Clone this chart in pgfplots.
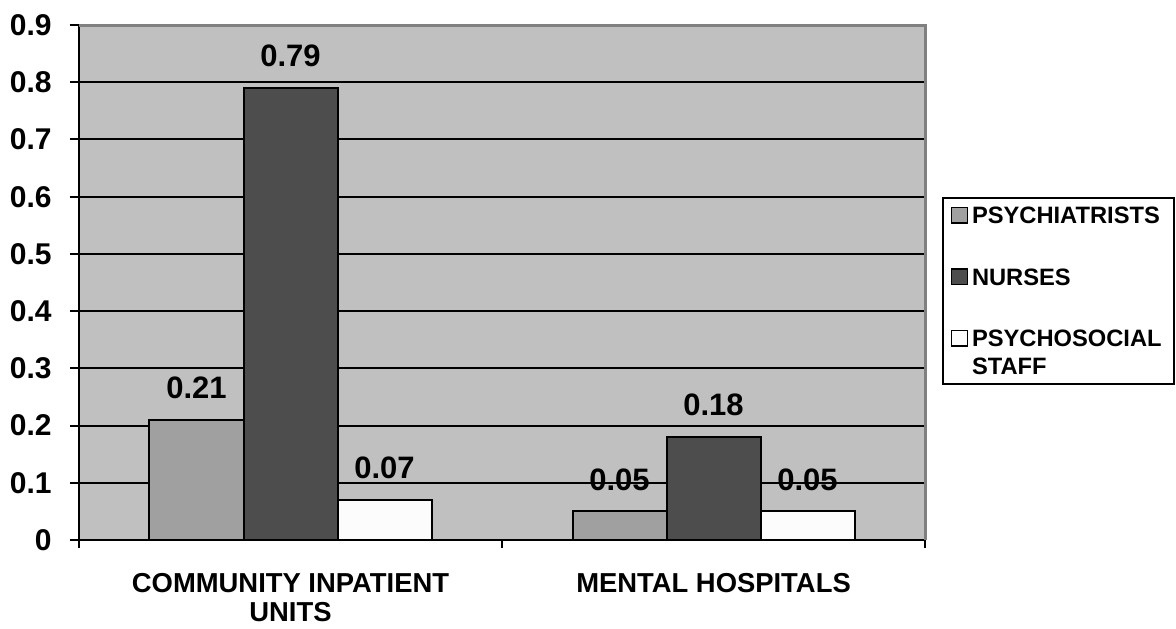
\documentclass[border=0pt]{standalone}
\usepackage{fontspec}
\setmainfont{Liberation Sans}
\usepackage{pgfplots}
\pgfplotsset{compat=1.18}

\definecolor{plotbg}{HTML}{C0C0C0}
\definecolor{psych}{HTML}{A0A0A0}
\definecolor{nurse}{HTML}{4D4D4D}
\definecolor{staff}{HTML}{FCFCFC}
\definecolor{frame}{HTML}{808080}

\begin{document}
\begin{tikzpicture}
\useasboundingbox (-39.5pt,-44pt) rectangle (548.5pt,270pt);
\begin{axis}[
  scale only axis,
  width=423pt, height=257.5pt,
  xmin=-0.5, xmax=1.5,
  ymin=0, ymax=0.9,
  axis background/.style={fill=plotbg},
  axis lines=left,
  axis line style={-, line width=1pt, black},
  tick align=outside,
  ytick={0,0.1,0.2,0.3,0.4,0.5,0.6,0.7,0.8,0.9},
  yticklabel style={/pgf/number format/fixed, /pgf/number format/precision=1,
    /pgf/number format/assume math mode=true,
    font=\fontsize{15}{17}\selectfont\bfseries, inner sep=0pt, anchor=east, xshift=-9pt},
  major tick length=4.5pt,
  minor tick length=4pt,
  major y tick style={black, line width=1pt},
  ymajorgrids,
  major grid style={black, line width=1pt},
  xtick={0,1},
  xticklabels={{COMMUNITY INPATIENT\\UNITS},{MENTAL HOSPITALS}},
  xticklabel style={font=\fontsize{13.7}{14.5}\selectfont\bfseries, align=center, inner sep=0pt, anchor=north, yshift=-12pt},
  major x tick style={draw=none},
  minor xtick={-0.5,0.5,1.5},
  minor x tick style={black, line width=1pt},
  ybar=0pt,
  bar width=47pt,
  every axis plot/.append style={draw=black, line width=1pt},
  nodes near coords={\pgfmathprintnumber[fixed,zerofill,precision=2,assume math mode=true]{\pgfplotspointmeta}},
  nodes near coords style={font=\fontsize{15.5}{17}\selectfont\bfseries, anchor=center, inner sep=0pt, yshift=16pt, black},
  every axis plot post/.append style={legend image code/.code={\draw[#1, line width=0.7pt] (0pt,0.3pt) rectangle (7.8pt,8.1pt);}},
  legend style={at={(1.0201,0.666)}, anchor=north west, draw=black, line width=1pt, fill=white,
    font=\fontsize{11.85}{14}\selectfont\bfseries, inner xsep=4pt, inner ysep=2.5pt, row sep=17pt,
    cells={anchor=base west}},
  clip=false,
]
\addplot[fill=psych] coordinates {(0,0.21) (1,0.05)};
\addlegendentry{PSYCHIATRISTS}
\addplot[fill=nurse] coordinates {(0,0.79) (1,0.18)};
\addlegendentry{NURSES}
\addplot[fill=staff] coordinates {(0,0.07) (1,0.05)};
\addlegendentry[text depth=14pt]{\vtop{\hbox{PSYCHOSOCIAL}\hbox{STAFF}}}
\draw[frame, line width=1.5pt] (rel axis cs:0,1) -- (rel axis cs:1,1) -- (rel axis cs:1,0);
\end{axis}
\end{tikzpicture}
\end{document}
